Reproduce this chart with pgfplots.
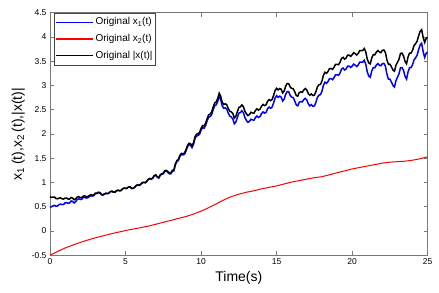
\documentclass[border=0pt]{standalone}
\usepackage{fontspec}
\setmainfont{Liberation Sans}
\usepackage{pgfplots}
\pgfplotsset{compat=1.18}
\definecolor{axgray}{RGB}{120,120,120}
\definecolor{leggray}{RGB}{70,70,70}

\pgfplotstableread{
t x1 nx
0.0 0.50 0.707
0.1 0.50 0.694
0.2 0.52 0.700
0.3 0.53 0.700
0.4 0.51 0.670
0.5 0.518 0.665
0.6 0.545 0.680
0.7 0.555 0.683
0.8 0.545 0.665
0.9 0.548 0.658
1.0 0.58 0.680
1.1 0.585 0.680
1.2 0.57 0.660
1.3 0.58 0.660
1.4 0.62 0.690
1.5 0.61 0.678
1.6 0.58 0.645
1.7 0.605 0.663
1.8 0.65 0.700
1.9 0.665 0.710
2.0 0.65 0.690
2.1 0.655 0.690
2.2 0.69 0.720
2.3 0.695 0.725
2.4 0.68 0.710
2.5 0.685 0.710
2.6 0.71 0.730
2.7 0.73 0.750
2.8 0.72 0.740
2.9 0.73 0.745
3.0 0.77 0.780
3.1 0.77 0.780
3.2 0.79 0.800
3.3 0.785 0.794
3.4 0.75 0.758
3.5 0.74 0.747
3.6 0.76 0.766
3.7 0.775 0.780
3.8 0.77 0.774
3.9 0.78 0.783
4.0 0.81 0.812
4.1 0.82 0.822
4.2 0.80 0.801
4.3 0.80 0.800
4.4 0.83 0.830
4.5 0.84 0.840
4.6 0.83 0.830
4.7 0.835 0.835
4.8 0.87 0.870
4.9 0.885 0.885
5.0 0.88 0.880
5.1 0.88 0.880
5.2 0.91 0.910
5.3 0.91 0.910
5.4 0.88 0.880
5.5 0.88 0.881
5.6 0.90 0.902
5.7 0.935 0.937
5.8 0.95 0.952
5.9 0.94 0.943
6.0 0.96 0.963
6.1 0.995 0.998
6.2 1.00 1.003
6.3 0.995 0.999
6.4 1.02 1.024
6.5 1.06 1.065
6.6 1.08 1.085
6.7 1.065 1.071
6.8 1.09 1.097
6.9 1.135 1.143
7.0 1.15 1.158
7.1 1.11 1.119
7.2 1.09 1.100
7.3 1.15 1.162
7.4 1.17 1.183
7.5 1.18 1.194
7.6 1.23 1.244
7.7 1.235 1.251
7.8 1.21 1.227
7.9 1.18 1.199
8.0 1.18 1.200
8.1 1.23 1.251
8.2 1.24 1.262
8.3 1.365 1.387
8.4 1.43 1.452
8.5 1.455 1.478
8.6 1.54 1.563
8.7 1.575 1.600
8.8 1.57 1.596
8.9 1.58 1.607
9.0 1.65 1.677
9.1 1.735 1.763
9.2 1.78 1.809
9.3 1.77 1.801
9.4 1.72 1.753
9.5 1.785 1.819
9.6 1.91 1.944
9.7 1.96 1.996
9.8 1.97 2.008
9.9 1.995 2.034
10.0 2.08 2.120
10.1 2.13 2.173
10.2 2.12 2.165
10.3 2.175 2.222
10.4 2.27 2.318
10.5 2.345 2.395
10.6 2.36 2.412
10.7 2.40 2.454
10.8 2.50 2.555
10.9 2.58 2.638
11.0 2.60 2.660
11.1 2.67 2.731
11.2 2.78 2.842
11.3 2.71 2.778
11.4 2.58 2.653
11.5 2.53 2.608
11.6 2.54 2.623
11.7 2.515 2.604
11.8 2.43 2.524
11.9 2.37 2.470
12.0 2.35 2.455
12.1 2.31 2.422
12.2 2.21 2.328
12.3 2.245 2.363
12.4 2.34 2.457
12.5 2.43 2.548
12.6 2.44 2.558
12.7 2.48 2.600
12.8 2.44 2.563
12.9 2.34 2.470
13.0 2.28 2.416
13.1 2.24 2.379
13.2 2.26 2.401
13.3 2.305 2.448
13.4 2.29 2.434
13.5 2.285 2.430
13.6 2.34 2.486
13.7 2.37 2.519
13.8 2.34 2.491
13.9 2.36 2.512
14.0 2.42 2.572
14.1 2.455 2.609
14.2 2.43 2.585
14.3 2.445 2.600
14.4 2.52 2.674
14.5 2.555 2.710
14.6 2.53 2.687
14.7 2.555 2.711
14.8 2.64 2.795
14.9 2.745 2.898
15.0 2.79 2.941
15.1 2.755 2.909
15.2 2.78 2.937
15.3 2.76 2.922
15.4 2.68 2.847
15.5 2.72 2.886
15.6 2.82 2.985
15.7 2.875 3.041
15.8 2.87 3.037
15.9 2.795 2.968
16.0 2.76 2.939
16.1 2.75 2.934
16.2 2.68 2.868
16.3 2.60 2.794
16.4 2.58 2.779
16.5 2.655 2.854
16.6 2.67 2.868
16.7 2.66 2.859
16.8 2.71 2.909
16.9 2.735 2.937
17.0 2.70 2.904
17.1 2.62 2.831
17.2 2.58 2.798
17.3 2.605 2.826
17.4 2.57 2.793
17.5 2.58 2.802
17.6 2.65 2.871
17.7 2.755 2.972
17.8 2.80 3.013
17.9 2.81 3.022
18.0 2.88 3.090
18.1 3.005 3.212
18.2 3.07 3.273
18.3 3.045 3.251
18.4 3.08 3.288
18.5 3.14 3.349
18.6 3.14 3.350
18.7 3.12 3.333
18.8 3.16 3.375
18.9 3.22 3.436
19.0 3.22 3.436
19.1 3.21 3.428
19.2 3.26 3.480
19.3 3.34 3.560
19.4 3.36 3.579
19.5 3.32 3.543
19.6 3.34 3.566
19.7 3.40 3.627
19.8 3.40 3.627
19.9 3.37 3.600
20.0 3.40 3.633
20.1 3.44 3.675
20.2 3.42 3.656
20.3 3.39 3.628
20.4 3.42 3.660
20.5 3.48 3.720
20.6 3.48 3.720
20.7 3.48 3.721
20.8 3.52 3.762
20.9 3.44 3.693
21.0 3.28 3.543
21.1 3.195 3.465
21.2 3.17 3.446
21.3 3.30 3.571
21.4 3.37 3.636
21.5 3.365 3.631
21.6 3.42 3.686
21.7 3.45 3.719
21.8 3.42 3.691
21.9 3.405 3.677
22.0 3.45 3.723
22.1 3.455 3.732
22.2 3.40 3.680
22.3 3.235 3.528
22.4 3.13 3.435
22.5 3.13 3.439
22.6 3.07 3.383
22.7 3.00 3.319
22.8 2.97 3.295
22.9 3.10 3.417
23.0 3.17 3.478
23.1 3.24 3.540
23.2 3.37 3.662
23.3 3.37 3.666
23.4 3.31 3.609
23.5 3.19 3.498
23.6 3.13 3.447
23.7 3.28 3.588
23.8 3.37 3.669
23.9 3.37 3.669
24.0 3.43 3.728
24.1 3.53 3.825
24.2 3.57 3.862
24.3 3.625 3.913
24.4 3.74 4.024
24.5 3.835 4.117
24.6 3.87 4.150
24.7 3.695 3.989
24.8 3.58 3.887
24.9 3.665 3.971
25.0 3.69 3.995
}\dataA

\pgfplotstableread{
t x2
0.0 -0.500
0.5 -0.420
1.0 -0.350
1.5 -0.290
2.0 -0.235
2.5 -0.185
3.0 -0.140
3.5 -0.100
4.0 -0.060
4.5 -0.025
5.0 0.010
5.5 0.040
6.0 0.070
6.5 0.100
7.0 0.140
7.5 0.180
8.0 0.220
8.5 0.260
9.0 0.300
9.5 0.350
10.0 0.410
10.5 0.480
11.0 0.560
11.5 0.640
12.0 0.710
12.5 0.760
13.0 0.800
13.5 0.830
14.0 0.870
14.5 0.900
15.0 0.930
15.5 0.970
16.0 1.010
16.5 1.040
17.0 1.070
17.5 1.100
18.0 1.120
18.5 1.160
19.0 1.200
19.5 1.240
20.0 1.280
20.5 1.310
21.0 1.340
21.5 1.370
22.0 1.400
22.5 1.420
23.0 1.430
23.5 1.440
24.0 1.460
24.5 1.490
25.0 1.530
}\dataB

\begin{document}
\begin{tikzpicture}
\begin{axis}[
  scale only axis,
  width=377.7pt, height=242.6pt,
  xmin=0, xmax=25, ymin=-0.5, ymax=4.5,
  xtick={0,5,10,15,20,25},
  ytick={-0.5,0,0.5,1,1.5,2,2.5,3,3.5,4,4.5},
  tick align=inside, tick pos=both, major tick length=4pt,
  axis line style={axgray, line width=0.6pt},
  tick style={axgray, line width=0.6pt},
  /pgf/number format/assume math mode=true,
  every tick label/.append style={font=\fontsize{8.5}{10}\selectfont, text=black},
  xlabel={Time(s)},
  ylabel={x\textsubscript{1}\,(t),x\textsubscript{2}\,(t),|x(t)|},
  label style={font=\fontsize{14}{16}\selectfont},
  legend cell align=left,
  legend image code/.code={\draw[#1, line width=1.3pt] (0pt,0pt) -- (37pt,0pt);},
  legend style={at={(rel axis cs:0.0106,1)}, anchor=north west, draw=leggray, line width=0.6pt,
    font=\fontsize{10}{12}\selectfont, inner xsep=1pt, inner ysep=1pt, row sep=0pt,
    nodes={text height=7pt, text depth=2pt, inner ysep=3.85pt, inner xsep=2pt}},
]
\coordinate (SW) at (rel axis cs:0,0);
\coordinate (NE) at (rel axis cs:1,1);
\addplot[blue, line width=1.5pt] table[x=t, y=x1] {\dataA};
\addlegendentry{Original x\textsubscript{1}(t)}
\addplot[red, line width=1pt] table[x=t, y=x2] {\dataB};
\addlegendentry{Original x\textsubscript{2}(t)}
\addplot[black, line width=1.5pt] table[x=t, y=nx] {\dataA};
\addlegendentry{Original |x(t)|}
\end{axis}
\pgfresetboundingbox
\path[use as bounding box] ([shift={(-50pt,-36.7pt)}]SW) rectangle ([shift={(11.3pt,12.7pt)}]NE);
\end{tikzpicture}
\end{document}
